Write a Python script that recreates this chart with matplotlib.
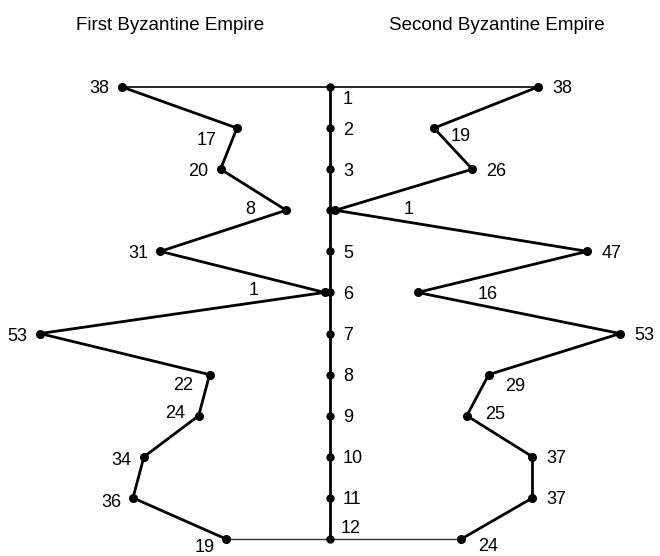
import matplotlib
matplotlib.use("Agg")
import matplotlib.pyplot as plt

# ---- data ----
periods = list(range(1, 13))
period_labels = ["1", "2", "3", "", "5", "6", "7", "8", "9", "10", "11", "12"]
first_empire = [38, 17, 20, 8, 31, 1, 53, 22, 24, 34, 36, 19]
second_empire = [38, 19, 26, 1, 47, 16, 53, 29, 25, 37, 37, 24]
titles = ["First Byzantine Empire", "Second Byzantine Empire"]

# ---- label placement (pixel offsets from each point) ----
left_offsets = [(-13, 0), (-20, -10), (-12, 0), (-31, 3), (-12, 0), (-66, 4),
                (-13, -1), (-16, -9), (-14, 4), (-13, -2), (-12, -3), (-11, -7)]
right_offsets = [(14, 0), (17, -6), (14, 0), (68, 3), (14, 0), (60, 0),
                 (14, 0), (16, -10), (18, 3), (14, 0), (14, 0), (17, -6)]
period_offsets = [(13, -11)] + [(13, 0)] * 10 + [(11, 12)]

plt.rcParams['font.family'] = ['Liberation Sans', 'DejaVu Sans']
fig = plt.figure(figsize=(6.6, 5.56), dpi=100)
ax = fig.add_axes([0, 0, 1, 1])
ax.set_xlim(-60.3, 60.3)
ax.set_ylim(12.414, -1.117)
ax.axis('off')

left_x = [-v for v in first_empire]
right_x = list(second_empire)

# connectors at top and bottom
ax.plot([left_x[0], right_x[0]], [periods[0], periods[0]], color='black', lw=1.2, zorder=1)
ax.plot([left_x[-1], right_x[-1]], [periods[-1], periods[-1]], color='#333333', lw=1.0, zorder=1)

# central axis with period markers
ax.plot([0] * len(periods), periods, color='black', lw=2.0, marker='o', ms=5, zorder=2)

# series
ax.plot(left_x, periods, color='black', lw=2.0, marker='o', ms=5.5, zorder=3)
ax.plot(right_x, periods, color='black', lw=2.0, marker='o', ms=5.5, zorder=3)

fs = 13
for p, x, v, (dx, dy) in zip(periods, left_x, first_empire, left_offsets):
    ax.annotate(str(v), (x, p), xytext=(dx, dy), textcoords='offset pixels',
                ha='right', va='center_baseline', fontsize=fs)
for p, x, v, (dx, dy) in zip(periods, right_x, second_empire, right_offsets):
    ax.annotate(str(v), (x, p), xytext=(dx, dy), textcoords='offset pixels',
                ha='left', va='center_baseline', fontsize=fs)
for p, lab, (dx, dy) in zip(periods, period_labels, period_offsets):
    if lab:
        ax.annotate(lab, (0, p), xytext=(dx, dy), textcoords='offset pixels',
                    ha='left', va='center_baseline', fontsize=fs)

fig.text(170 / 660, 1 - 23 / 556, titles[0], ha='center', va='center_baseline', fontsize=13.5)
fig.text(497 / 660, 1 - 23 / 556, titles[1], ha='center', va='center_baseline', fontsize=13.5)

fig.savefig("out.png", dpi=100)
